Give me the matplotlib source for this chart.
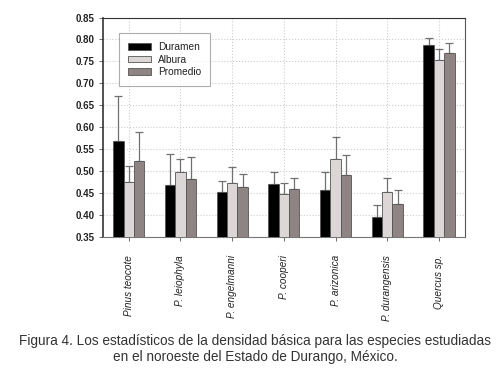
import matplotlib
matplotlib.use("Agg")
import matplotlib.pyplot as plt
import numpy as np

plt.rcParams['font.family'] = ['Liberation Sans', 'DejaVu Sans']

especies = ["Pinus teocote", "P. leiophyla", "P. engelmanni", "P. cooperi",
            "P. arizonica", "P. durangensis", "Quercus sp."]
duramen = [0.568, 0.469, 0.452, 0.470, 0.456, 0.396, 0.788]
duramen_sup = [0.671, 0.539, 0.477, 0.497, 0.497, 0.424, 0.804]
albura = [0.476, 0.497, 0.474, 0.447, 0.528, 0.453, 0.753]
albura_sup = [0.511, 0.527, 0.509, 0.472, 0.578, 0.485, 0.778]
promedio = [0.524, 0.483, 0.463, 0.459, 0.492, 0.425, 0.770]
promedio_sup = [0.590, 0.533, 0.493, 0.485, 0.537, 0.456, 0.791]

series = [
    ("Duramen", duramen, duramen_sup, "#000000"),
    ("Albura", albura, albura_sup, "#ddd6d6"),
    ("Promedio", promedio, promedio_sup, "#8e8484"),
]

fig = plt.figure(figsize=(5.02, 3.81), dpi=100)
ax = fig.add_axes([0.205, 0.378, 0.721, 0.576])

x = np.arange(len(especies))
w = 0.2
for k, (nombre, vals, sup, color) in enumerate(series):
    vals = np.array(vals)
    err = np.array(sup) - vals
    pos = x + (k - 1) * w
    ax.bar(pos, vals - 0.35, w, bottom=0.35, color=color, edgecolor="#555555",
           linewidth=0.6, label=nombre, zorder=3)
    ax.errorbar(pos, vals, yerr=[np.zeros_like(err), err], fmt="none",
                ecolor="#707070", elinewidth=0.9, capsize=3, capthick=0.9, zorder=2)

ax.set_xlim(-0.5, len(especies) - 0.5)
ax.set_ylim(0.35, 0.85)
ax.set_yticks(np.arange(0.35, 0.851, 0.05))
ax.set_yticklabels(["%.2f" % v for v in np.arange(0.35, 0.851, 0.05)],
                   fontsize=7, fontweight="bold", color="#222222")
ax.set_xticks(x)
ax.set_xticklabels(especies, rotation=90, fontsize=7.2, style="italic",
                   color="#222222")
ax.tick_params(axis="both", length=3, width=0.6, color="#555555", pad=3)
ax.tick_params(axis="x", pad=10)

ax.grid(True, linestyle=":", color="#cccccc", linewidth=0.8, zorder=0)
ax.set_axisbelow(True)

ax.spines["left"].set_linewidth(1.2)
ax.spines["left"].set_color("#333333")
ax.spines["bottom"].set_color("#777777")
ax.spines["top"].set_linestyle((0, (2, 1)))
ax.spines["top"].set_color("#333333")
ax.spines["right"].set_color("#555555")

leg = ax.legend(loc="upper left", bbox_to_anchor=(0.045, 0.93), fontsize=7.3,
                frameon=True, fancybox=False, edgecolor="#999999",
                handlelength=2.2, handleheight=0.6, borderpad=0.9,
                labelspacing=0.25, handletextpad=0.7, borderaxespad=0)
leg.get_frame().set_linewidth(0.8)
for t in leg.get_texts():
    t.set_color("#222222")

fig.text(0.508, 0.085, "Figura 4. Los estadísticos de la densidad básica para las especies estudiadas\n"
         "en el noroeste del Estado de Durango, México.",
         ha="center", va="center", multialignment="center",
         fontsize=9.8, color="#333333", linespacing=1.2)

fig.savefig("out.png", dpi=100)
